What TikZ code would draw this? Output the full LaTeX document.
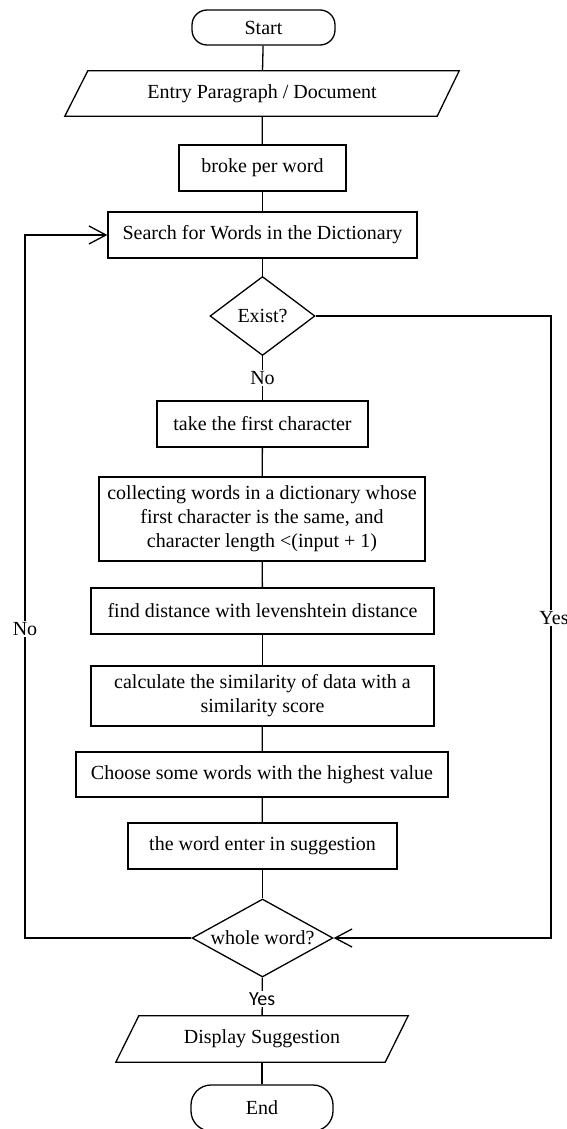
\documentclass[tikz,border=0pt]{standalone}
\usepackage{fontspec}
\setmainfont{Liberation Serif}
\newfontfamily\labelsans{Carlito}
\usetikzlibrary{shapes.geometric,arrows.meta}

\begin{document}
\begin{tikzpicture}[x=1pt,y=-1pt,
  font=\fontsize{20}{24}\selectfont,
  box/.style={draw, line width=1.3pt, inner sep=0pt, align=center},
  term/.style={box, rounded corners=15pt},
  io/.style={inner sep=0pt, align=center},
  ioframe/.style={line width=1.3pt, line join=miter},
  decision/.style={diamond, draw, line width=1.3pt, inner sep=0pt},
  link/.style={line width=1.3pt},
  back/.style={link, -{Straight Barb[length=17pt,width=18pt,line width=1.3pt]}},
  lbl/.style={fill=white, inner sep=1.5pt}]
\useasboundingbox (0,0) rectangle (567,1129);

% process nodes
\node[term, minimum width=143pt, minimum height=35pt] (start) at (263.5,27.5) {Start};
\node[io, minimum width=394pt, minimum height=45pt] (entry) at (262,93.5) {Entry Paragraph / Document};
\draw[ioframe] ([xshift=23pt]entry.north west) -- (entry.north east)
  -- ([xshift=-22pt]entry.south east) -- (entry.south west) -- cycle;
\node[box, minimum width=167pt, minimum height=46pt] (broke) at (262.5,168) {broke per word};
\node[box, minimum width=309pt, minimum height=46pt] (search) at (262.5,235) {Search for Words in the Dictionary};
\node[decision, aspect=1.33, minimum width=105pt, minimum height=79pt] (exist) at (262.5,316) {Exist?};
\node[box, minimum width=211pt, minimum height=46pt] (take) at (262.5,424) {take the first character};
\node[box, minimum width=326pt, minimum height=84pt] (collect) at (262,519)
  {collecting words in a dictionary whose\\first character is the same, and\\character length <(input + 1)};
\node[box, minimum width=343pt, minimum height=46pt] (find) at (262.5,611) {find distance with levenshtein distance};
\node[box, minimum width=343pt, minimum height=60pt] (calc) at (262.5,696)
  {calculate the similarity of data with a\\similarity score};
\node[box, minimum width=372pt, minimum height=45pt] (choose) at (262,774.5) {Choose some words with the highest value};
\node[box, minimum width=269pt, minimum height=46pt] (suggest) at (262.5,846) {the word enter in suggestion};
\node[decision, aspect=1.8, minimum width=141pt, minimum height=78pt] (whole) at (262.5,938) {whole word?};
\node[io, minimum width=292pt, minimum height=46pt] (display) at (262,1039) {Display Suggestion};
\draw[ioframe] ([xshift=23pt]display.north west) -- (display.north east)
  -- ([xshift=-23pt]display.south east) -- (display.south west) -- cycle;
\node[term, rounded corners=20pt, minimum width=142pt, minimum height=46pt] (end) at (262,1108) {End};

% main flow
\draw[link] (start) -- (entry);
\draw[link] (entry) -- (broke);
\draw[link] (broke) -- (search);
\draw[link] (search) -- (exist);
\draw[link] (exist) -- node[lbl] {No} (take);
\draw[link] (take) -- (collect);
\draw[link] (collect) -- (find);
\draw[link] (find) -- (calc);
\draw[link] (calc) -- (choose);
\draw[link] (choose) -- (suggest);
\draw[link] (suggest) -- (whole);
\draw[link] (whole) -- node[lbl, pos=0.56] {\labelsans Yes} (display);
\draw[link] (display) -- (end);

% loop back and skip branches
\coordinate (lcol) at (25,0);
\coordinate (rcol) at (551,0);
\draw[back] (whole.west) -- (whole.west -| lcol)
  -- node[lbl, pos=0.44] {No} (search.west -| lcol) -- (search.west);
\draw[back] (exist.east) -- (exist.east -| rcol)
  -- node[lbl, pos=0.486, xshift=3pt] {Yes} (whole.east -| rcol) -- (whole.east);
\end{tikzpicture}
\end{document}
